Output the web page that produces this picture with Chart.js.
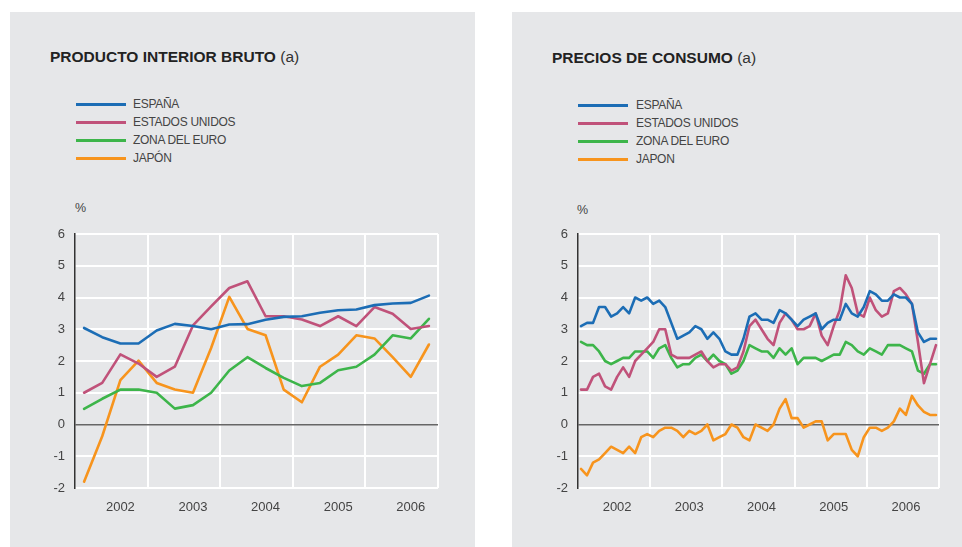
<!DOCTYPE html>
<html>
<head>
<meta charset="utf-8">
<script src="https://cdn.jsdelivr.net/npm/chart.js@4.4.1/dist/chart.umd.min.js"></script>
<style>
  html, body { margin: 0; padding: 0; background: #ffffff; }
  body { width: 962px; height: 547px; position: relative; overflow: hidden; font-family: "Liberation Sans", Arial, sans-serif; }
  .panel { position: absolute; background: #e6e7e9; }
  .title { position: absolute; font-size: 15.5px; font-weight: bold; color: #222; white-space: nowrap; line-height: 18px; }
  .title span { font-weight: normal; color: #333; }
  .leg { position: absolute; font-size: 12px; color: #444; letter-spacing: -0.3px; white-space: nowrap; line-height: 14px; }
  .leg i { position: absolute; width: 50px; height: 3px; }
  .unit { position: absolute; font-size: 12.5px; color: #444; }
  canvas { position: absolute; }
</style>
</head>
<body>
<div class="panel" style="left:10px; top:12px; width:465px; height:535px;"></div>
<div class="panel" style="left:512px; top:12px; width:450px; height:535px;"></div>

<div class="title" style="left:50px; top:48px;">PRODUCTO INTERIOR BRUTO <span>(a)</span></div>
<div class="title" style="left:552px; top:49px;">PRECIOS DE CONSUMO <span>(a)</span></div>

<div id="legL"></div>
<div id="legR"></div>

<div class="unit" style="left:75px; top:201px;">%</div>
<div class="unit" style="left:577px; top:203px;">%</div>

<canvas id="c1" width="465" height="330" style="left:10px; top:190px; width:465px; height:330px;"></canvas>
<canvas id="c2" width="450" height="330" style="left:512px; top:190px; width:450px; height:330px;"></canvas>

<script>
// ---- Data ----
const seriesNames = ["ESPAÑA", "ESTADOS UNIDOS", "ZONA DEL EURO", "JAPÓN"];
const seriesNamesR = ["ESPAÑA", "ESTADOS UNIDOS", "ZONA DEL EURO", "JAPON"];
const seriesColors = ["#1c6db5", "#c0527a", "#3db54a", "#f7941d"];
const yearLabels = ["2002", "2003", "2004", "2005", "2006"];
const yTicks = [-2, -1, 0, 1, 2, 3, 4, 5, 6];

// PIB, quarterly (2002 Q1 ... 2006 Q4)
const pibEspana = [3.04, 2.75, 2.55, 2.55, 2.96, 3.17, 3.10, 3.00, 3.15, 3.16, 3.30, 3.39, 3.41, 3.52, 3.60, 3.62, 3.76, 3.81, 3.83, 4.06];
const pibEEUU   = [1.00, 1.31, 2.21, 1.92, 1.50, 1.82, 3.12, 3.72, 4.30, 4.51, 3.41, 3.41, 3.31, 3.10, 3.41, 3.10, 3.70, 3.49, 3.01, 3.10];
const pibEuro   = [0.49, 0.81, 1.10, 1.10, 1.00, 0.50, 0.61, 1.00, 1.70, 2.12, 1.78, 1.47, 1.21, 1.31, 1.71, 1.82, 2.20, 2.81, 2.71, 3.33];
const pibJapon  = [-1.80, -0.37, 1.40, 2.01, 1.31, 1.10, 1.00, 2.41, 4.02, 3.01, 2.81, 1.10, 0.70, 1.82, 2.20, 2.81, 2.71, 2.12, 1.50, 2.52];

// Precios de consumo, monthly (2002-01 ... 2006-12)
const ipcEspana = [3.1, 3.2, 3.2, 3.7, 3.7, 3.4, 3.5, 3.7, 3.5, 4.0, 3.9, 4.0,
                   3.8, 3.9, 3.7, 3.2, 2.7, 2.8, 2.9, 3.1, 3.0, 2.7, 2.9, 2.7,
                   2.3, 2.2, 2.2, 2.7, 3.4, 3.5, 3.3, 3.3, 3.2, 3.6, 3.5, 3.3,
                   3.1, 3.3, 3.4, 3.5, 3.0, 3.2, 3.3, 3.3, 3.8, 3.5, 3.4, 3.7,
                   4.2, 4.1, 3.9, 3.9, 4.1, 4.0, 4.0, 3.8, 2.9, 2.6, 2.7, 2.7];
const ipcEEUU   = [1.1, 1.1, 1.5, 1.6, 1.2, 1.1, 1.5, 1.8, 1.5, 2.0, 2.2, 2.4,
                   2.6, 3.0, 3.0, 2.2, 2.1, 2.1, 2.1, 2.2, 2.3, 2.0, 1.8, 1.9,
                   1.9, 1.7, 1.8, 2.3, 3.1, 3.3, 3.0, 2.7, 2.5, 3.2, 3.5, 3.3,
                   3.0, 3.0, 3.1, 3.5, 2.8, 2.5, 3.1, 3.6, 4.7, 4.3, 3.5, 3.4,
                   4.0, 3.6, 3.4, 3.5, 4.2, 4.3, 4.1, 3.8, 2.6, 1.3, 1.9, 2.5];
const ipcEuro   = [2.6, 2.5, 2.5, 2.3, 2.0, 1.9, 2.0, 2.1, 2.1, 2.3, 2.3, 2.3,
                   2.1, 2.4, 2.5, 2.1, 1.8, 1.9, 1.9, 2.1, 2.2, 2.0, 2.2, 2.0,
                   1.9, 1.6, 1.7, 2.0, 2.5, 2.4, 2.3, 2.3, 2.1, 2.4, 2.2, 2.4,
                   1.9, 2.1, 2.1, 2.1, 2.0, 2.1, 2.2, 2.2, 2.6, 2.5, 2.3, 2.2,
                   2.4, 2.3, 2.2, 2.5, 2.5, 2.5, 2.4, 2.3, 1.7, 1.6, 1.9, 1.9];
const ipcJapon  = [-1.4, -1.6, -1.2, -1.1, -0.9, -0.7, -0.8, -0.9, -0.7, -0.9, -0.4, -0.3,
                   -0.4, -0.2, -0.1, -0.1, -0.2, -0.4, -0.2, -0.3, -0.2, 0.0, -0.5, -0.4,
                   -0.3, 0.0, -0.1, -0.4, -0.5, 0.0, -0.1, -0.2, 0.0, 0.5, 0.8, 0.2,
                   0.2, -0.1, 0.0, 0.1, 0.1, -0.5, -0.3, -0.3, -0.3, -0.8, -1.0, -0.4,
                   -0.1, -0.1, -0.2, -0.1, 0.1, 0.5, 0.3, 0.9, 0.6, 0.4, 0.3, 0.3];

// ---- Legends (HTML text) ----
function buildLegend(id, names, lineX, textX, rowsY) {
  const el = document.getElementById(id);
  names.forEach((n, k) => {
    const line = document.createElement('div');
    line.className = 'leg';
    line.innerHTML = '<i style="left:' + lineX + 'px; top:' + (rowsY[k] - 1.5) + 'px; background:' + seriesColors[k] + '"></i>';
    el.appendChild(line);
    const t = document.createElement('div');
    t.className = 'leg';
    t.style.left = textX + 'px';
    t.style.top = (rowsY[k] - 7) + 'px';
    t.textContent = n;
    el.appendChild(t);
  });
}
buildLegend('legL', seriesNames, 76, 133, [104, 122, 140, 158]);
buildLegend('legR', seriesNamesR, 578, 636, [105, 123, 141, 159]);

// ---- Charts ----
function makeChart(canvasId, seriesList, perYear, labelIdxInYear, padRight, axisWidth) {
  const n = seriesList[0].length;
  const datasets = seriesList.map((arr, k) => ({
    label: seriesNames[k],
    data: arr.map((v, i) => ({ x: i, y: v })),
    borderColor: seriesColors[k],
    backgroundColor: seriesColors[k],
    borderWidth: 2.6,
    pointRadius: 0,
    tension: 0,
    borderJoinStyle: 'round',
    borderCapStyle: 'round'
  }));
  const gridVals = [];
  const labelMap = {};
  for (let y = 0; y < yearLabels.length; y++) {
    gridVals.push(y * perYear + perYear - 0.5);
    const li = y * perYear + labelIdxInYear;
    labelMap[li] = yearLabels[y];
  }
  const xTickVals = [-0.5].concat(Object.keys(labelMap).map(Number), gridVals).sort((a, b) => a - b);

  return new Chart(document.getElementById(canvasId), {
    type: 'line',
    data: { datasets },
    options: {
      animation: false,
      responsive: false,
      devicePixelRatio: 1,
      layout: { padding: { top: 44, right: padRight, left: 0, bottom: 0 } },
      plugins: { legend: { display: false }, tooltip: { enabled: false } },
      scales: {
        x: {
          type: 'linear',
          min: -0.5,
          max: n - 0.5,
          afterBuildTicks: (s) => { s.ticks = xTickVals.map(v => ({ value: v })); },
          afterFit: (s) => { s.height = 32; },
          border: { display: false },
          grid: {
            drawTicks: false,
            color: (ctx) => (ctx.tick && gridVals.includes(ctx.tick.value)) ? '#ffffff' : 'rgba(0,0,0,0)',
            lineWidth: 2
          },
          ticks: {
            autoSkip: false,
            maxRotation: 0,
            padding: 12,
            color: '#444',
            font: { family: 'Liberation Sans', size: 13 },
            callback: (v) => labelMap[v] || ''
          }
        },
        y: {
          min: -2,
          max: 6,
          afterBuildTicks: (s) => { s.ticks = yTicks.map(v => ({ value: v })); },
          afterFit: (s) => { s.width = axisWidth; },
          border: { display: true, color: '#333', width: 1.5 },
          grid: {
            drawTicks: false,
            color: (ctx) => (ctx.tick && ctx.tick.value === 0) ? '#666666' : '#ffffff',
            lineWidth: (ctx) => (ctx.tick && ctx.tick.value === 0) ? 1.6 : 2
          },
          ticks: {
            padding: 10,
            color: '#444',
            font: { family: 'Liberation Sans', size: 13 },
            callback: (v) => String(v)
          }
        }
      }
    }
  });
}

makeChart('c1', [pibEspana, pibEEUU, pibEuro, pibJapon], 4, 2, 37, 65);
makeChart('c2', [ipcEspana, ipcEEUU, ipcEuro, ipcJapon], 12, 6, 23, 66);
</script>
</body>
</html>
